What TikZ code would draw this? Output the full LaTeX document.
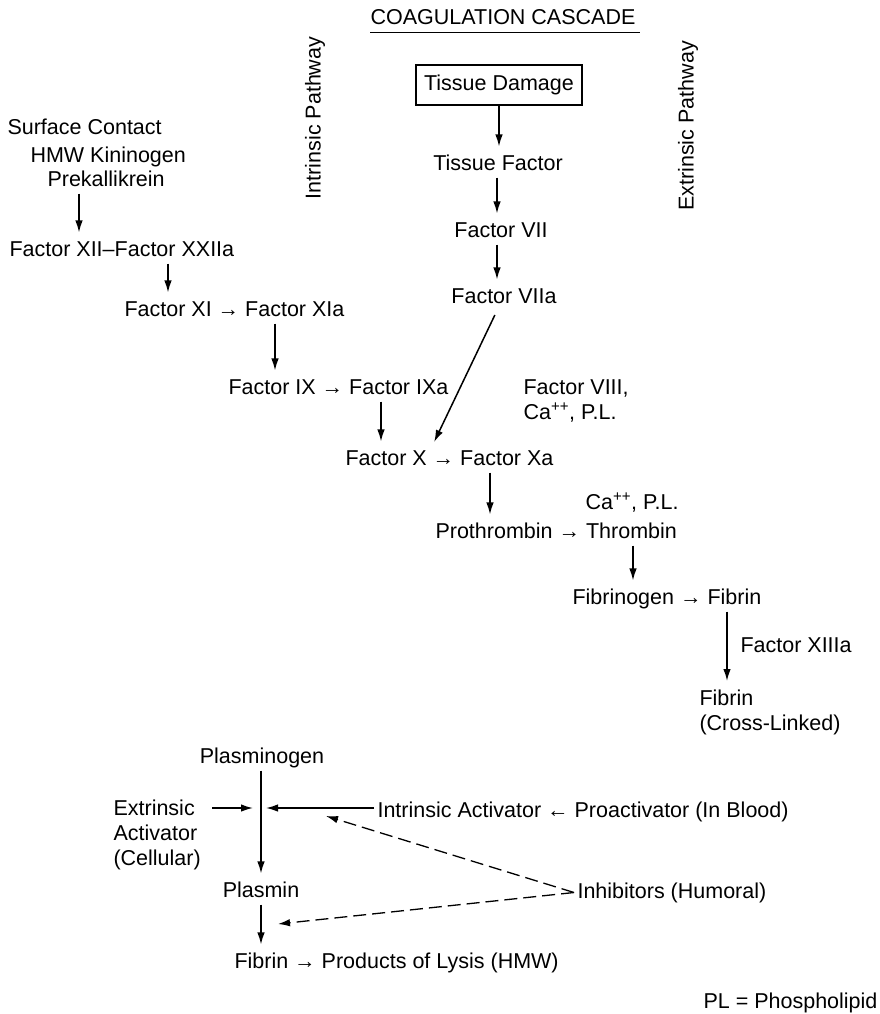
\documentclass[tikz,border=0pt]{standalone}
\usepackage{fontspec}
\setmainfont{Liberation Sans}
\usetikzlibrary{arrows.meta}

\newcommand{\tra}{→}
\newcommand{\tla}{←}

\begin{document}
\begin{tikzpicture}[x=1pt,y=-1pt,
      font=\fontsize{21.5pt}{25pt}\selectfont,
      >={Latex[length=12pt,width=7.5pt]},
      txt/.style={text height=15pt,text depth=4pt},
      stepbox/.style={draw,line width=1.4pt,inner xsep=8pt,minimum height=40pt},
      flow/.style={->,line width=1.5pt,shorten >=5pt},
      inhib/.style={->,line width=1.3pt,dash pattern=on 13pt off 6pt},
      pathway/.style={rotate=90}
      ]
    \useasboundingbox (0,0) rectangle (879,1014);

    % title
    \node[inner sep=0pt] (title) at (503,17) {COAGULATION CASCADE};
    \draw[line width=1.2pt] ([yshift=-8pt]title.south west) -- ([yshift=-8pt,xshift=4pt]title.south east);
    \node[pathway] (intp) at (315,118) {Intrinsic Pathway};
    \node[pathway] (extp) at (688,126) {Extrinsic Pathway};

    % extrinsic side
    \node[stepbox] (td) at (499,85) {Tissue Damage};
    \node[txt,anchor=base] (tf) at (498,170) {Tissue Factor};
    \node[txt,anchor=base] (f7) at (501,237) {Factor VII};
    \node[txt,anchor=base] (f7a) at (504,303) {Factor VIIa};

    % intrinsic side
    \node[txt,anchor=base west] (surf) at (4,135) {Surface Contact};
    \node[txt,anchor=base west] (hmw) at (27,162) {HMW Kininogen};
    \node[txt,anchor=base west] (prek) at (44,186) {Prekallikrein};
    \node[txt,anchor=base west] (f12) at (6,256) {Factor XII–Factor XXIIa};
    \node[txt,anchor=base west] (f11) at (121,316) {Factor XI \tra{} Factor XIa};
    \node[txt,anchor=base west] (f9) at (225,394) {Factor IX \tra{} Factor IXa};

    % common path
    \node[txt,anchor=base west] (f10) at (342,465) {Factor X \tra{} Factor Xa};
    \node[align=left,anchor=north west] (cof1) at (520,376) {Factor VIII,\\Ca\textsuperscript{++}, P.L.};
    \node[txt,anchor=base west] (cof2) at (582,509) {Ca\textsuperscript{++}, P.L.};
    \node[txt,anchor=base west] (pro) at (432,538) {Prothrombin \tra{} Thrombin};
    \node[txt,anchor=base west] (fbg) at (569,604) {Fibrinogen \tra{} Fibrin};
    \node[txt,anchor=base west] (f13) at (737,652) {Factor XIIIa};
    \node[align=left,anchor=north west] (fcl) at (696,686) {Fibrin\\(Cross-Linked)};

    % fibrinolysis
    \node[txt,anchor=base] (plg) at (262,763) {Plasminogen};
    \node[align=left,anchor=north west] (exa) at (110,796) {Extrinsic\\Activator\\(Cellular)};
    \node[txt,anchor=base west] (ina) at (374,817) {Intrinsic Activator \tla{} Proactivator (In Blood)};
    \node[txt,anchor=base] (pls) at (261,897) {Plasmin};
    \node[txt,anchor=base west] (inh) at (574,898) {Inhibitors (Humoral)};
    \node[txt,anchor=base west] (lys) at (231,968) {Fibrin \tra{} Products of Lysis (HMW)};
    \node[txt,anchor=base west] (pl) at (700,1008) {PL = Phospholipid};

    \coordinate (jn) at (261,808);
    \coordinate (t1) at (326,816);
    \coordinate (t2) at (278,924);

    \draw[flow] (td.south) -- (td.south |- tf.north);
    \draw[flow] (497,0 |- tf.south) -- (497,0 |- f7.north);
    \draw[flow] (497,0 |- f7.south) -- (497,0 |- f7a.north);
    \draw[flow,shorten <=5pt] (497,0 |- f7a.south) -- (432,0 |- f10.north);
    \draw[flow] (79,0 |- prek.south) -- (79,0 |- f12.north);
    \draw[flow] (168,0 |- f12.south) -- (168,0 |- f11.north);
    \draw[flow] (275,0 |- f11.south) -- (275,0 |- f9.north);
    \draw[flow] (381,0 |- f9.south) -- (381,0 |- f10.north);
    \draw[flow] (490,0 |- f10.south) -- (490,0 |- pro.north);
    \draw[flow] (633,0 |- pro.south) -- (633,0 |- fbg.north);
    \draw[flow] (727,0 |- fbg.south) -- (727,0 |- fcl.north);

    \draw[flow] (261,0 |- plg.south) -- (261,0 |- pls.north);
    \draw[flow,shorten >=8pt,shorten <=8pt] (exa.east |- jn) -- (jn);
    \draw[->,line width=1.5pt] (ina.west |- jn) -- ([xshift=5pt]jn);
    \draw[flow] (261,0 |- pls.south) -- (261,0 |- lys.north);
    \draw[inhib] (inh.west) -- (t1);
    \draw[inhib] (inh.west) -- (t2);
\end{tikzpicture}
\end{document}
